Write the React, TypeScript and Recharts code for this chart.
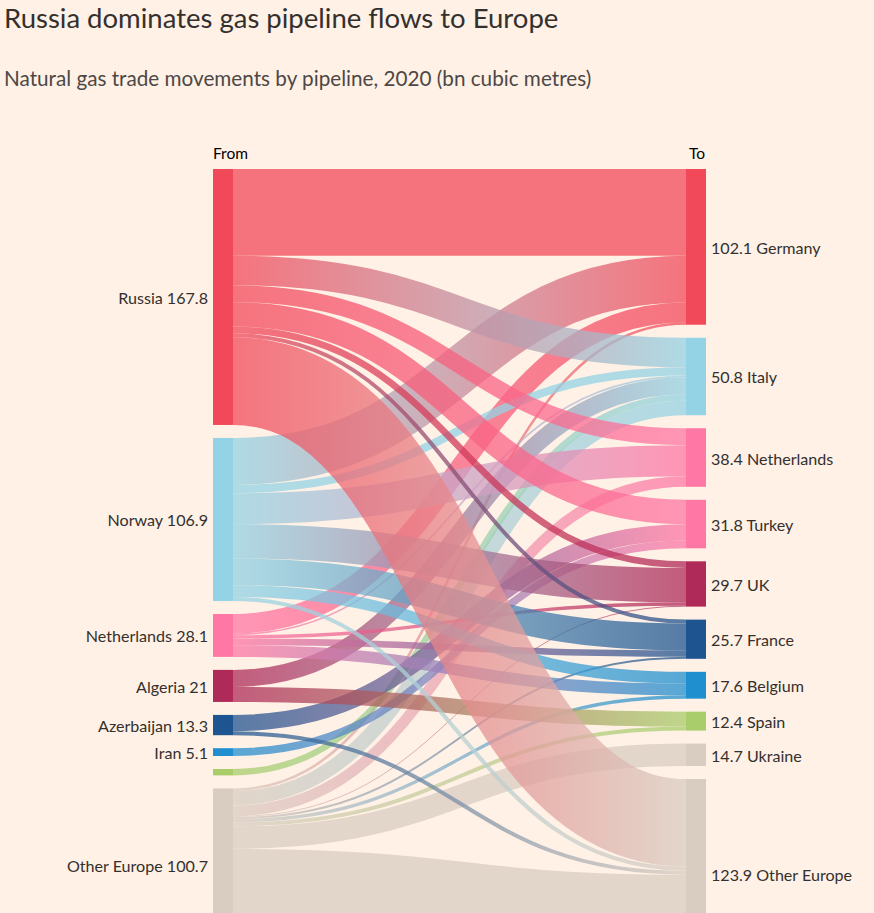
import React from 'react';
import { Sankey } from 'recharts';

// ---- Data ----
const sourceNames = ['Russia', 'Norway', 'Netherlands', 'Algeria', 'Azerbaijan', 'Iran', '', 'Other Europe'];
const sourceTotals = [167.8, 106.9, 28.1, 21, 13.3, 5.1, 4.2, 100.7];

const targetNames = ['Germany', 'Italy', 'Netherlands', 'Turkey', 'UK', 'France', 'Belgium', 'Spain', 'Ukraine', 'Other Europe'];
const targetTotals = [102.1, 50.8, 38.4, 31.8, 29.7, 25.7, 17.6, 12.4, 14.7, 123.9];

// flows from each source, in target order:
// Germany, Italy, Netherlands, Turkey, UK, France, Belgium, Spain, Ukraine, Other Europe
const russiaFlows = [56.8, 19.4, 11.1, 16.0, 4.4, 2.6, 0, 0, 0, 57.5];
const norwayFlows = [30.8, 5.4, 20.3, 0, 22.5, 17.5, 7.7, 0, 0, 2.7];
const netherlandsFlows = [12.8, 1.1, 0, 0, 2.2, 4.3, 7.7, 0, 0, 0];
const algeriaFlows = [0, 11.2, 0, 0, 0, 0, 0, 9.8, 0, 0];
const azerbaijanFlows = [0, 0, 0, 10.7, 0, 0, 0, 0, 0, 2.6];
const iranFlows = [0, 0, 0, 5.1, 0, 0, 0, 0, 0, 0];
const unlabeledFlows = [0, 4.2, 0, 0, 0, 0, 0, 0, 0, 0];
const otherEuropeFlows = [1.7, 9.5, 7.0, 0, 0.6, 1.3, 2.2, 2.6, 14.7, 61.1];

const flowsBySource = [
  russiaFlows, norwayFlows, netherlandsFlows, algeriaFlows,
  azerbaijanFlows, iranFlows, unlabeledFlows, otherEuropeFlows,
];

// ---- Styles ----
const RED = '#f2495a';
const LIGHTBLUE = '#94d3e5';
const PINK = '#ff77a5';
const CRIMSON = '#af2a59';
const NAVY = '#1e5490';
const BLUE = '#1f8fd0';
const GREEN = '#a9cd6b';
const BEIGE = '#d9ccc1';

const sourceColors = [RED, LIGHTBLUE, PINK, CRIMSON, NAVY, BLUE, GREEN, BEIGE];
const targetColors = [RED, LIGHTBLUE, PINK, PINK, CRIMSON, NAVY, BLUE, GREEN, BEIGE, BEIGE];

const FONT = 'Lato, "Noto Sans", sans-serif';
const TEXT = '#33302e';
const NS = sourceNames.length;

const nodes = [
  ...sourceNames.map((name) => ({ name })),
  ...targetNames.map((name) => ({ name })),
];

// links of later sources are listed first so that earlier sources are drawn on top
const links: { source: number; target: number; value: number }[] = [];
for (let s = flowsBySource.length - 1; s >= 0; s--) {
  flowsBySource[s].forEach((v, t) => {
    if (v > 0) links.push({ source: s, target: NS + t, value: v });
  });
}

const NodeShape = (props: any) => {
  const { x, y, width, height, index } = props;
  const isSource = index < NS;
  const color = isSource ? sourceColors[index] : targetColors[index - NS];
  const name = isSource ? sourceNames[index] : targetNames[index - NS];
  const total = isSource ? sourceTotals[index] : targetTotals[index - NS];
  const label = name ? (isSource ? `${name} ${total}` : `${total} ${name}`) : '';
  return (
    <g>
      <rect x={x} y={y} width={width} height={height} fill={color} />
      {label ? (
        <text
          x={isSource ? x - 5 : x + width + 5}
          y={y + height / 2 + 7}
          textAnchor={isSource ? 'end' : 'start'}
          fontSize={16.1}
          fontFamily={FONT}
          fill={TEXT}
        >
          {label}
        </text>
      ) : null}
    </g>
  );
};

const LinkShape = (props: any) => {
  const { sourceX, targetX, sourceY, targetY, sourceControlX, targetControlX, linkWidth, index } = props;
  const l = links[index];
  const sc = sourceColors[l.source];
  const tc = targetColors[l.target - NS];
  const id = `lg-${index}`;
  return (
    <g>
      <defs>
        <linearGradient id={id} gradientUnits="userSpaceOnUse" x1={sourceX} y1={0} x2={targetX} y2={0}>
          <stop offset="0%" stopColor={sc} />
          <stop offset="100%" stopColor={tc} />
        </linearGradient>
      </defs>
      <path
        d={`M${sourceX},${sourceY}C${sourceControlX},${sourceY} ${targetControlX},${targetY} ${targetX},${targetY}`}
        fill="none"
        stroke={`url(#${id})`}
        strokeWidth={linkWidth}
        strokeOpacity={0.75}
      />
    </g>
  );
};

export default function App() {
  return (
    <div style={{ position: 'relative', width: 874, height: 913, overflow: 'hidden', background: '#fff1e5' }}>
      <style>{`body{margin:0;background:#fff1e5;}`}</style>
      <div style={{ position: 'absolute', left: 0, top: 0 }}>
        <Sankey
          width={874}
          height={968}
          data={{ nodes, links }}
          nodeWidth={20}
          nodePadding={13}
          iterations={0}
          linkCurvature={0.5}
          margin={{ top: 169, right: 168, bottom: 0, left: 213 }}
          node={<NodeShape />}
          link={<LinkShape />}
        />
      </div>
      <svg width={874} height={913} style={{ position: 'absolute', left: 0, top: 0, pointerEvents: 'none' }}>
        <text x={4} y={28} fontSize={27.5} fontFamily={FONT} fill={TEXT}>
          Russia dominates gas pipeline flows to Europe
        </text>
        <text x={4} y={86} fontSize={20.7} fontFamily={FONT} fill="#4d4845">
          Natural gas trade movements by pipeline, 2020 (bn cubic metres)
        </text>
        <text x={213} y={159} fontSize={15.5} fontFamily={FONT} fill="#000000">From</text>
        <text x={689} y={159} fontSize={15.5} fontFamily={FONT} fill="#000000">To</text>
      </svg>
    </div>
  );
}
